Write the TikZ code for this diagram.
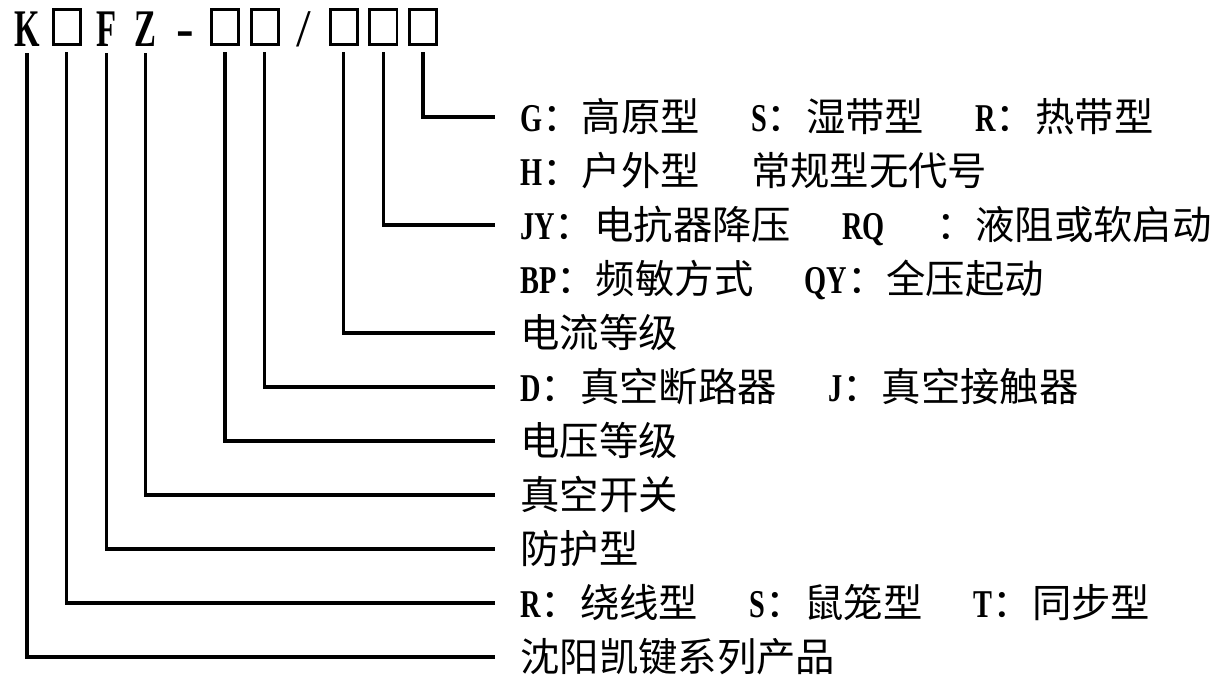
\documentclass[tikz,border=0pt]{standalone}
\usepackage{fontspec}
\setmainfont{Liberation Serif}
\newfontfamily\cjkfont{Noto Sans CJK SC}
\newfontfamily\latfont[FakeStretch=0.72]{Liberation Serif}
\newfontfamily\headfont[FakeStretch=0.62]{Liberation Serif}
\newcommand{\lat}[1]{{\latfont\bfseries #1}}
\newcommand{\gap}{\hspace{1.3em}}

\begin{document}
\begin{tikzpicture}[x=0.025cm,y=-0.025cm,
    head/.style={inner sep=0,anchor=south,font=\headsize\headfont\bfseries},
    headbox/.style={draw,line width=2pt,inner sep=0,anchor=south,minimum width=0.675cm,minimum height=0.875cm},
    row/.style={anchor=west,inner xsep=0.625cm,inner ysep=0,text height=24pt,text depth=4pt,font=\rowsize\cjkfont},
    conn/.style={line width=2.3pt,shorten <=0.15cm}]
    \pgfmathsetmacro{\headpitch}{39.6}
    \pgfmathsetmacro{\headbase}{47}
    \pgfmathsetmacro{\rowpitch}{54}
    \pgfmathsetmacro{\firstrow}{117}
    \pgfmathsetmacro{\rowleft}{495}
    \providecommand{\headsize}{\fontsize{37.6pt}{40pt}\selectfont}
    \providecommand{\rowsize}{\fontsize{28pt}{34pt}\selectfont}
    \useasboundingbox (0,0) rectangle (1214,684);
    % model code
    \node[head] (k) at (27,\headbase) {K};
    \node[headbox] (b1) at (27+\headpitch,\headbase-1) {};
    \node[head] (f) at (27+2*\headpitch,\headbase) {F};
    \node[head] (z) at (27+3*\headpitch,\headbase) {Z};
    \node[head,font=\headsize\bfseries] (dash) at (27+4*\headpitch,\headbase) {-};
    \node[headbox] (b2) at (27+5*\headpitch,\headbase-1) {};
    \node[headbox] (b3) at (27+6*\headpitch,\headbase-1) {};
    \node[head,font=\headsize] (slash) at (27+7*\headpitch,\headbase) {/};
    \node[headbox] (b4) at (27+8*\headpitch,\headbase-1) {};
    \node[headbox] (b5) at (27+9*\headpitch,\headbase-1) {};
    \node[headbox] (b6) at (27+10*\headpitch,\headbase-1) {};
    % meanings
    \node[row] (t0) at (\rowleft,\firstrow) {\lat{G}：高原型\gap\lat{S}：湿带型\gap\lat{R}：热带型};
    \node[row] (t1) at (\rowleft,\firstrow+\rowpitch) {\lat{H}：户外型\gap 常规型无代号};
    \node[row] (t2) at (\rowleft,\firstrow+2*\rowpitch) {\lat{JY}：电抗器降压\gap\lat{RQ}\gap ：液阻或软启动};
    \node[row] (t3) at (\rowleft,\firstrow+3*\rowpitch) {\lat{BP}：频敏方式\gap\lat{QY}：全压起动};
    \node[row] (t4) at (\rowleft,\firstrow+4*\rowpitch) {电流等级};
    \node[row] (t5) at (\rowleft,\firstrow+5*\rowpitch) {\lat{D}：真空断路器\gap\lat{J}：真空接触器};
    \node[row] (t6) at (\rowleft,\firstrow+6*\rowpitch) {电压等级};
    \node[row] (t7) at (\rowleft,\firstrow+7*\rowpitch) {真空开关};
    \node[row] (t8) at (\rowleft,\firstrow+8*\rowpitch) {防护型};
    \node[row] (t9) at (\rowleft,\firstrow+9*\rowpitch) {\lat{R}：绕线型\gap\lat{S}：鼠笼型\gap\lat{T}：同步型};
    \node[row] (t10) at (\rowleft,\firstrow+10*\rowpitch) {沈阳凯键系列产品};
    % leaders
    \draw[conn] (b6.south) |- (t0.west);
    \draw[conn] (b5.south) |- (t2.west);
    \draw[conn] (b4.south) |- (t4.west);
    \draw[conn] (b3.south) |- (t5.west);
    \draw[conn] (b2.south) |- (t6.west);
    \draw[conn] (z.south) |- (t7.west);
    \draw[conn] (f.south) |- (t8.west);
    \draw[conn] (b1.south) |- (t9.west);
    \draw[conn] (k.south) |- (t10.west);
\end{tikzpicture}
\end{document}
